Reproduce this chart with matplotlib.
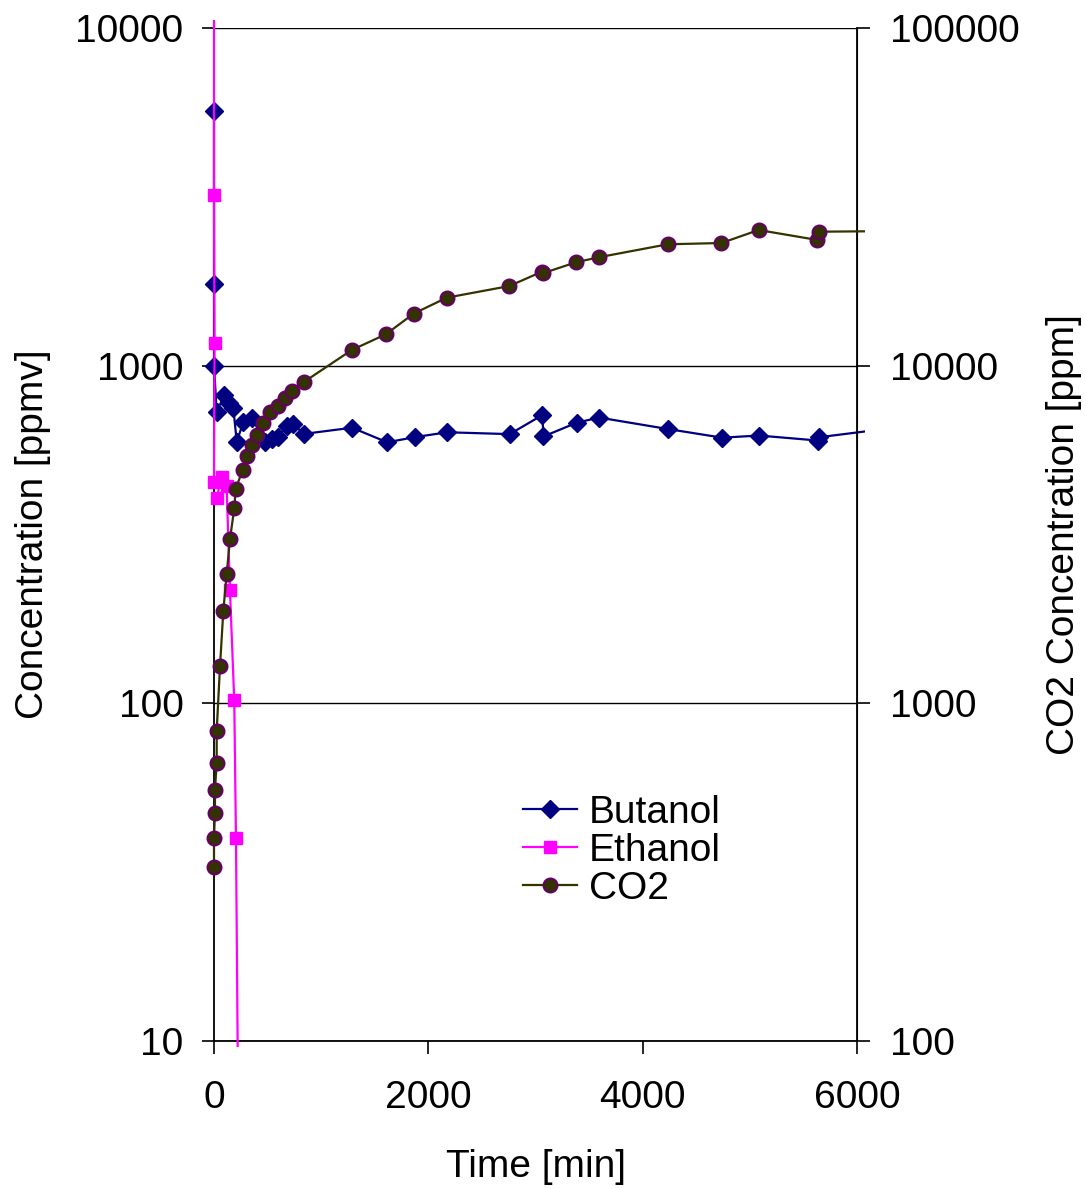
import matplotlib
matplotlib.use("Agg")
import matplotlib.pyplot as plt
from matplotlib.patches import Rectangle
from matplotlib.ticker import FixedLocator, FixedFormatter, NullLocator

plt.rcParams['font.family'] = ['Liberation Sans', 'DejaVu Sans']

# ---------------- data ----------------
butanol_t = [0, 0, 0, 25, 96, 140, 180, 212, 274, 352, 476, 538, 600, 678, 740, 840,
             1288, 1616, 1871, 2176, 2759, 3064, 3074, 3386, 3593, 4237, 4742, 5084,
             5640, 5650, 6100]
butanol_v = [5690, 1746, 1000, 730, 818, 775, 750, 596, 680, 700, 596, 607, 615, 662, 671, 628,
             655, 593, 614, 635, 627, 714, 617, 678, 702, 649, 612, 621,
             600, 614, 640]

ethanol_t = [0, 0, 5, 0, 70, 25, 118, 149, 189, 205, 228]
ethanol_v = [15000, 3200, 1164, 453, 469, 405, 440, 216, 102, 40, 5]

co2_t = [0, 0, 9, 9, 25, 25, 56, 87, 118, 149, 189, 202, 267, 305, 352, 398, 460, 523,
         594, 662, 725, 836, 1284, 1606, 1863, 2172, 2755, 3060, 3067, 3380, 3590,
         4233, 4735, 5082, 5628, 5644, 6100]
co2_v = [327, 399, 475, 554, 665, 828, 1286, 1878, 2414, 3060, 3780, 4310, 4910, 5400,
         5820, 6230, 6750, 7280, 7620, 8000, 8430, 8935, 11120, 12400, 14260, 15900,
         17210, 18980, 18770, 20250, 20940, 22880, 23080, 25220, 23570, 24930, 25000]

x_ticks = [0, 2000, 4000, 6000]
left_ticks = [10, 100, 1000, 10000]
right_ticks = [100, 1000, 10000, 100000]

# ---------------- figure ----------------
W, H = 1086, 1189
fig = plt.figure(figsize=(W / 100, H / 100), dpi=100)
L, R, T, B = 214, 857, 28, 1041
ax = fig.add_axes([L / W, 1 - B / H, (R - L) / W, (B - T) / H])
AW, AH = R - L, B - T

FS = 28


def clip_rect(axes):
    # plot-area clip slightly larger than the axes (like the spreadsheet renderer)
    x0, x1 = -11 / AW, 1 + 8 / AW
    y0, y1 = -6 / AH, 1 + 8 / AH
    return Rectangle((x0, y0), x1 - x0, y1 - y0, transform=axes.transAxes,
                     facecolor='none', edgecolor='none')


l1, = ax.plot(butanol_t, butanol_v, color='#000080', lw=1.6, marker='D', ms=9.5,
              mfc='#000080', mec='#000080', label='Butanol', zorder=3,
              markevery=list(range(len(butanol_t) - 1)))
l2, = ax.plot(ethanol_t, ethanol_v, color='#FF00FF', lw=1.6, marker='s', ms=8.5,
              mfc='#FF00FF', mec='#FF00FF', label='Ethanol', zorder=3.1,
              markevery=list(range(1, len(ethanol_t) - 1)))
for ln in (l1, l2):
    ln.set_clip_path(clip_rect(ax))

ax.set_yscale('log')
ax.set_ylim(10, 10000)
ax.set_xlim(0, 6000)
ax.yaxis.set_major_locator(FixedLocator(left_ticks))
ax.yaxis.set_major_formatter(FixedFormatter([str(v) for v in left_ticks]))
ax.yaxis.set_minor_locator(NullLocator())
ax.xaxis.set_major_locator(FixedLocator(x_ticks))
ax.xaxis.set_major_formatter(FixedFormatter([str(v) for v in x_ticks]))
ax.grid(axis='y', color='black', lw=1.0)
ax.set_axisbelow(True)
ax.tick_params(axis='y', direction='out', length=9, width=1.2, pad=13, labelsize=FS)
ax.tick_params(axis='x', direction='out', length=9, width=1.2, pad=19, labelsize=FS)
ax.spines['top'].set_visible(False)
for s in ['left', 'bottom']:
    ax.spines[s].set_linewidth(1.3)

ax2 = ax.twinx()
l3, = ax2.plot(co2_t, co2_v, color='#333300', lw=1.6, marker='o', ms=10,
               mfc='#333300', mec='#660066', mew=1.5, label='CO2', zorder=3,
               markevery=list(range(len(co2_t) - 1)))
l3.set_clip_path(clip_rect(ax2))
ax2.set_yscale('log')
ax2.set_ylim(100, 100000)
ax2.yaxis.set_major_locator(FixedLocator(right_ticks))
ax2.yaxis.set_major_formatter(FixedFormatter([str(v) for v in right_ticks]))
ax2.yaxis.set_minor_locator(NullLocator())
ax2.tick_params(axis='y', direction='out', length=9, width=1.2, pad=15, labelsize=FS)
for s in ['top', 'left', 'bottom']:
    ax2.spines[s].set_visible(False)
ax2.spines['right'].set_linewidth(1.3)
ax2.set_xlim(0, 6000)

ax.set_xlabel('Time [min]', fontsize=FS, va='center')
ax.xaxis.set_label_coords(0.5, -0.124)
ax.set_ylabel('Concentration [ppmv]', fontsize=FS, va='center')
ax.yaxis.set_label_coords(-0.281, 0.5)
ax2.set_ylabel('CO2 Concentration [ppm]', fontsize=FS, va='center')
ax2.yaxis.set_label_coords(1.322, 0.5)

leg = ax2.legend(handles=[l1, l2, l3], loc='center left',
                 bbox_to_anchor=((523 - L) / AW, (B - 851) / AH),
                 frameon=False, fontsize=FS, handlelength=1.4, handletextpad=0.3,
                 labelspacing=0.05, borderpad=0, borderaxespad=0)

fig.savefig('out.png', dpi=100)
